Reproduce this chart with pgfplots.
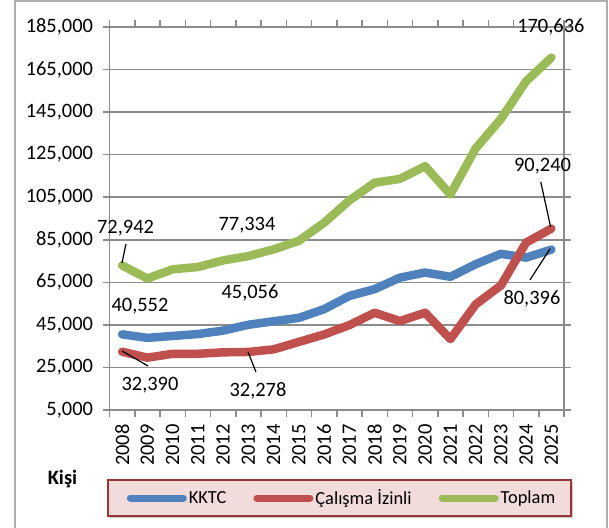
\documentclass[border=0pt]{standalone}
\usepackage{pgfplots}
\pgfplotsset{compat=1.18}
\usepackage{fontspec}
\setmainfont{Carlito}
\usetikzlibrary{shadows}
\definecolor{kblue}{HTML}{4F81BD}
\definecolor{kred}{HTML}{C0504D}
\definecolor{kgreen}{HTML}{9BBB59}
\definecolor{lpink}{HTML}{F2DCDB}
\definecolor{dred}{HTML}{953735}
\definecolor{gridg}{HTML}{8C8C8C}
\newcommand{\lab}{\fontsize{20.5}{24}\selectfont}
\begin{document}
\begin{tikzpicture}[x=1bp,y=1bp]
\useasboundingbox (0,0) rectangle (609,528);
\draw[color=gridg!70, line width=1.5bp] (15,-2) -- (15,527.2) -- (607,527.2) -- (607,-2);
\fill[lpink, drop shadow={shadow xshift=2bp, shadow yshift=-2bp, fill=black!40}] (108,12) rectangle (571,48);
\draw[dred, line width=2bp] (108,12) rectangle (571,48);
\node[font=\lab\bfseries] at (62.5,49) {Kişi};
\begin{axis}[
  at={(109.5bp,118bp)}, anchor=south west,
  scale only axis, width=454.5bp, height=383bp,
  xmin=-0.5, xmax=17.5, ymin=5000, ymax=185000,
  scaled y ticks=false, scaled x ticks=false,
  xtick={0,...,17},
  xticklabels={2008,2009,2010,2011,2012,2013,2014,2015,2016,2017,2018,2019,2020,2021,2022,2023,2024,2025},
  minor xtick={-0.5,0.5,...,17.5},
  ytick={5000,25000,45000,65000,85000,105000,125000,145000,165000,185000},
  yticklabels={{5,000},{25,000},{45,000},{65,000},{85,000},{105,000},{125,000},{145,000},{165,000},{185,000}},
  tick align=outside,
  major tick length=7bp, minor tick length=7bp,
  major x tick style={draw=none},
  minor x tick style={gridg, line width=1.5bp},
  major y tick style={gridg, line width=1.5bp},
  ymajorgrids, major grid style={gridg, line width=1.5bp},
  axis line style={gridg, line width=1.5bp},
  ticklabel style={font=\lab},
  xticklabel style={yshift=-4bp, rotate=90, anchor=east},
  yticklabel style={xshift=-6bp},
  clip=false,
  legend columns=3,
  legend style={at={(rel axis cs:0.5116,-0.2298)}, anchor=center, draw=none, fill=none,
    font=\fontsize{18.5}{22}\selectfont,
    /tikz/every even column/.append style={column sep=25bp}},
  legend image code/.code={\draw[#1, line width=7bp, line cap=round] (0bp,0bp) -- (53bp,0bp);},
  every axis plot/.append style={line width=8.5bp, line join=round, line cap=round},
]
\addplot[kblue] coordinates {(0,40552) (1,38900) (2,39800) (3,40700) (4,42300) (5,45056) (6,46700) (7,48300) (8,52400) (9,58600) (10,61800) (11,67200) (12,69600) (13,67600) (14,73500) (15,78400) (16,76600) (17,80396)};
\addlegendentry{KKTC}
\addplot[kred] coordinates {(0,32390) (1,29600) (2,31400) (3,31400) (4,32100) (5,32278) (6,33500) (7,37000) (8,40500) (9,44900) (10,50700) (11,46800) (12,50700) (13,38300) (14,54600) (15,63500) (16,83700) (17,90240)};
\addlegendentry{Çalışma İzinli}
\addplot[kgreen] coordinates {(0,72942) (1,66800) (2,71100) (3,72200) (4,75300) (5,77334) (6,80500) (7,84500) (8,93000) (9,103500) (10,111800) (11,113600) (12,119600) (13,106300) (14,127900) (15,141800) (16,159500) (17,170636)};
\addlegendentry{Toplam}
% data labels
\node[font=\lab] at (axis cs:0.134,90550) {72,942};
\node[font=\lab] at (axis cs:4.945,91960) {77,334};
\node[font=\lab] at (axis cs:16.98,185000) {170,636};
\node[font=\lab] at (axis cs:16.65,119680) {90,240};
\node[font=\lab] at (axis cs:16.23,57190) {80,396};
\node[font=\lab] at (axis cs:0.708,53570) {40,552};
\node[font=\lab] at (axis cs:5.064,60010) {45,056};
\node[font=\lab] at (axis cs:1.104,16780) {32,390};
\node[font=\lab] at (axis cs:5.38,13960) {32,278};
% leader lines
\draw[black, line width=1.2bp] (axis cs:0.153,83030) -- (axis cs:-0.005,74100);
\draw[black, line width=1.2bp] (axis cs:16.58,112160) -- (axis cs:16.97,91020);
\draw[black, line width=1.2bp] (axis cs:16.15,66110) -- (axis cs:16.95,80800);
\draw[black, line width=1.2bp] (axis cs:-0.005,32750) -- (axis cs:1.025,25700);
\draw[black, line width=1.2bp] (axis cs:4.985,32280) -- (axis cs:5.30,22880);
\end{axis}
\end{tikzpicture}
\end{document}
